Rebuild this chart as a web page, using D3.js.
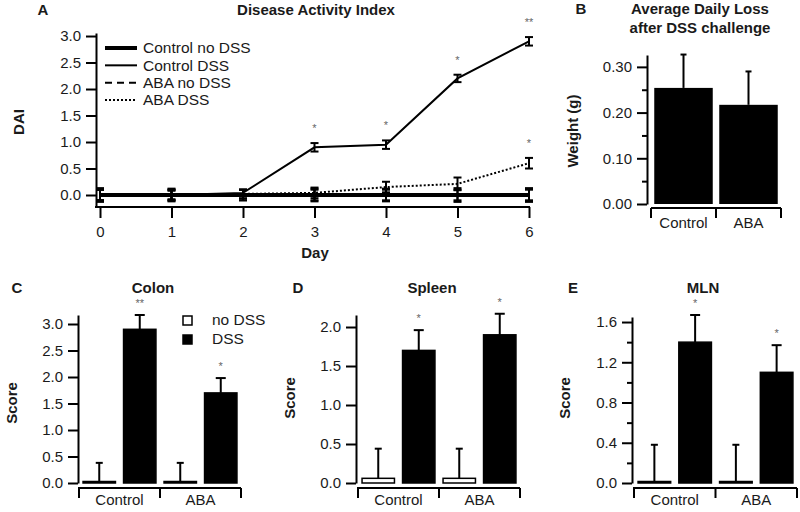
<!DOCTYPE html>
<html><head><meta charset="utf-8">
<script src="https://cdn.jsdelivr.net/npm/d3@7"></script>
<style>
body{margin:0;background:#fff;}
svg{display:block;font-family:"Liberation Sans",Arial,sans-serif;}
</style>
</head><body>
<svg id="chart" width="800" height="512"></svg>
<script>
// ---------- DATA ----------
const days = [0, 1, 2, 3, 4, 5, 6];
const daiTicks = [0, 0.5, 1, 1.5, 2, 2.5, 3];
const seriesNames = ["Control no DSS", "Control DSS", "ABA no DSS", "ABA DSS"];
const ctrlNoDSS = [0, 0, 0, 0, 0, 0, 0];
const ctrlNoDSSErr = [0.13, 0.12, 0.1, 0.12, 0.12, 0.13, 0.13];
const ctrlDSS = [0, 0, 0.04, 0.9, 0.95, 2.2, 2.9];
const ctrlDSSErr = [0.1, 0.1, 0.06, 0.08, 0.08, 0.07, 0.08];
const abaNoDSS = [0, 0, 0, 0, 0, 0, 0];
const abaNoDSSErr = [0.1, 0.1, 0.1, 0.1, 0.1, 0.1, 0.1];
const abaDSS = [0, 0, 0.02, 0.04, 0.15, 0.21, 0.6];
const abaDSSErr = [0.1, 0.08, 0.08, 0.1, 0.1, 0.12, 0.1];
const ctrlDSSStars = ["", "", "", "*", "*", "*", "**"];
const abaDSSStars = ["", "", "", "", "", "", "*"];

const groups = ["Control", "ABA"];
const treatments = ["no DSS", "DSS"];

const weightLoss = [0.254, 0.217];
const weightErr = [0.073, 0.073];
const weightTicks = [0, 0.1, 0.2, 0.3];
const weightMinor = [0.05, 0.15, 0.25];

const colonNo = [0.02, 0.02];
const colonNoErr = [0.36, 0.36];
const colonDSS = [2.9, 1.7];
const colonDSSErr = [0.27, 0.28];
const colonStars = ["**", "*"];
const colonTicks = [0, 0.5, 1, 1.5, 2, 2.5, 3];

const spleenNo = [0.06, 0.06];
const spleenNoErr = [0.38, 0.38];
const spleenDSS = [1.7, 1.9];
const spleenDSSErr = [0.26, 0.27];
const spleenStars = ["*", "*"];
const spleenTicks = [0, 0.5, 1, 1.5, 2];

const mlnNo = [0.01, 0.01];
const mlnNoErr = [0.37, 0.37];
const mlnDSS = [1.4, 1.1];
const mlnDSSErr = [0.27, 0.27];
const mlnStars = ["*", "*"];
const mlnTicks = [0, 0.4, 0.8, 1.2, 1.6];
const mlnMinor = [0.2, 0.6, 1.0, 1.4];

// ---------- HELPERS ----------
const svg = d3.select("#chart");
const TXT = "#1a1a1a";
const FS = 15;

function text(g, x, y, s, o = {}) {
  return g.append("text").attr("x", x).attr("y", y).attr("dy", "0.35em")
    .attr("text-anchor", o.anchor || "middle")
    .attr("font-size", o.size || FS)
    .attr("font-weight", o.bold ? "bold" : "normal")
    .attr("fill", o.fill || TXT)
    .text(s);
}
function vtext(g, x, y, s, size) {
  return g.append("text").attr("transform", `translate(${x},${y}) rotate(-90)`)
    .attr("dy", "0.35em").attr("text-anchor", "middle")
    .attr("font-size", size || FS).attr("font-weight", "bold").attr("fill", TXT).text(s);
}
function leftAxis(g, scale, x, majors, minors, fmt) {
  const ax = g.append("g").attr("transform", `translate(${x},0)`)
    .call(d3.axisLeft(scale).tickValues(majors).tickFormat(fmt).tickSize(10).tickSizeOuter(0).tickPadding(5));
  ax.select(".domain").attr("stroke", "#000").attr("stroke-width", 2);
  ax.selectAll(".tick line").attr("stroke", "#000").attr("stroke-width", 2);
  ax.selectAll(".tick text").attr("font-size", FS).attr("fill", TXT).attr("font-family", "Liberation Sans, Arial, sans-serif");
  if (minors) {
    const mn = g.append("g").attr("transform", `translate(${x},0)`)
      .call(d3.axisLeft(scale).tickValues(minors).tickFormat("").tickSize(5).tickSizeOuter(0));
    mn.select(".domain").remove();
    mn.selectAll(".tick line").attr("stroke", "#000").attr("stroke-width", 2);
  }
  return ax;
}

// ---------- PANEL A ----------
(function () {
  const g = svg.append("g");
  const x = d3.scaleLinear().domain([0, 6]).range([100, 529]);
  const y = d3.scaleLinear().domain([-0.2264, 3.057]).range([207, 33]);

  leftAxis(g, y, 96, daiTicks, null, d3.format(".1f"));
  const xa = g.append("g").attr("transform", "translate(0,207)")
    .call(d3.axisBottom(x).tickValues(days).tickFormat(d3.format("d")).tickSize(11).tickSizeOuter(0).tickPadding(8));
  xa.select(".domain").remove();
  xa.selectAll(".tick line").attr("stroke", "#000").attr("stroke-width", 2);
  xa.selectAll(".tick text").attr("font-size", FS).attr("fill", TXT).attr("font-family", "Liberation Sans, Arial, sans-serif");
  g.append("line").attr("x1", 95).attr("x2", 530).attr("y1", y.range()[0]).attr("y2", y.range()[0])
    .attr("stroke", "#000").attr("stroke-width", 2);

  const series = [
    { v: ctrlNoDSS, e: ctrlNoDSSErr, w: 4, dash: null },
    { v: ctrlDSS, e: ctrlDSSErr, w: 2, dash: null },
    { v: abaNoDSS, e: abaNoDSSErr, w: 2, dash: "7,5" },
    { v: abaDSS, e: abaDSSErr, w: 2, dash: "2,2" }
  ];
  const line = d3.line().x((d, i) => x(days[i])).y(d => y(d));
  series.forEach(s => {
    const eb = g.append("g");
    s.v.forEach((v, i) => {
      const cx = x(days[i]), t = y(v + s.e[i]), b = y(v - s.e[i]);
      eb.append("line").attr("x1", cx).attr("x2", cx).attr("y1", t).attr("y2", b).attr("stroke", "#000").attr("stroke-width", 2);
      [t, b].forEach(yy => eb.append("line").attr("x1", cx - 4).attr("x2", cx + 4).attr("y1", yy).attr("y2", yy).attr("stroke", "#000").attr("stroke-width", 2));
    });
  });
  [3, 2, 1, 0].forEach(k => {
    const s = series[k];
    g.append("path").attr("d", line(s.v)).attr("fill", "none").attr("stroke", "#000")
      .attr("stroke-width", s.w).attr("stroke-dasharray", s.dash);
  });
  ctrlDSSStars.forEach((s, i) => { if (s) text(g, x(days[i]), y(ctrlDSS[i] + ctrlDSSErr[i]) - 15, s, { size: 11, fill: "#666" }); });
  abaDSSStars.forEach((s, i) => { if (s) text(g, x(days[i]), y(abaDSS[i] + abaDSSErr[i]) - 15, s, { size: 11, fill: "#666" }); });

  const ly = d3.scalePoint().domain(seriesNames).range([48, 100]);
  seriesNames.forEach((n, k) => {
    const s = series[k];
    g.append("line").attr("x1", 105).attr("x2", 137).attr("y1", ly(n)).attr("y2", ly(n))
      .attr("stroke", "#000").attr("stroke-width", s.w).attr("stroke-dasharray", s.dash);
    text(g, 143, ly(n), n, { anchor: "start", size: 15.5 });
  });

  text(g, 316, 10, "Disease Activity Index", { bold: true });
  text(g, 43, 10, "A", { bold: true });
  text(g, 315, 253, "Day", { bold: true });
  vtext(g, 19, 122, "DAI");
})();

// ---------- PANEL B ----------
(function () {
  const g = svg.append("g");
  const x = d3.scaleBand().domain(groups).range([651, 781]).paddingInner(0.1).paddingOuter(0.05);
  const y = d3.scaleLinear().domain([0, 0.326]).range([204, 55]);
  leftAxis(g, y, 647, weightTicks, weightMinor, d3.format(".2f"));
  g.append("line").attr("x1", 651).attr("x2", 781).attr("y1", 208).attr("y2", 208).attr("stroke", "#000").attr("stroke-width", 2);
  const bounds = groups.map(d => x(d) - x.step() * x.paddingOuter()).concat([781]);
  bounds.forEach(b => g.append("line").attr("x1", b).attr("x2", b).attr("y1", 208).attr("y2", 218).attr("stroke", "#000").attr("stroke-width", 2));
  groups.forEach((gr, i) => {
    const bx = x(gr), bw = x.bandwidth();
    g.append("line").attr("x1", bx + bw / 2).attr("x2", bx + bw / 2).attr("y1", y(weightLoss[i])).attr("y2", y(weightLoss[i] + weightErr[i])).attr("stroke", "#000").attr("stroke-width", 2);
    g.append("line").attr("x1", bx + bw / 2 - 3).attr("x2", bx + bw / 2 + 3).attr("y1", y(weightLoss[i] + weightErr[i])).attr("y2", y(weightLoss[i] + weightErr[i])).attr("stroke", "#000").attr("stroke-width", 2);
    g.append("rect").attr("x", bx).attr("y", y(weightLoss[i])).attr("width", bw).attr("height", y(0) - y(weightLoss[i])).attr("fill", "#000");
    text(g, bx + bw / 2, 223, gr);
  });
  text(g, 700, 9, "Average Daily Loss", { bold: true });
  text(g, 700, 28, "after DSS challenge", { bold: true });
  text(g, 581, 9, "B", { bold: true });
  vtext(g, 573, 131, "Weight (g)");
})();

// ---------- PANELS C, D, E ----------
function barPanel(o) {
  const g = svg.append("g");
  const x = d3.scaleBand().domain(groups).range(o.band);
  const xi = d3.scaleBand().domain(treatments).range([0, x.bandwidth()]).paddingInner(0.2).paddingOuter(0.1);
  const y = d3.scaleLinear().domain([0, o.top]).range([483, o.topPx]);
  leftAxis(g, y, o.axisX, o.ticks, o.minor, d3.format(".1f"));
  g.append("line").attr("x1", o.band[0] - 1).attr("x2", o.band[1]).attr("y1", 488).attr("y2", 488).attr("stroke", "#000").attr("stroke-width", 2);
  groups.map(d => x(d)).concat([o.band[1]]).forEach(b =>
    g.append("line").attr("x1", b).attr("x2", b).attr("y1", 488).attr("y2", 498).attr("stroke", "#000").attr("stroke-width", 2));
  groups.forEach((gr, i) => {
    const rows = [
      { t: "no DSS", v: o.no[i], e: o.noErr[i], fill: "#fff", cap: 3.5 },
      { t: "DSS", v: o.dss[i], e: o.dssErr[i], fill: "#000", cap: 5 }
    ];
    rows.forEach(r => {
      const bx = x(gr) + xi(r.t), bw = xi.bandwidth(), cx = bx + bw / 2;
      g.append("line").attr("x1", cx).attr("x2", cx).attr("y1", y(r.v)).attr("y2", y(r.v + r.e)).attr("stroke", "#000").attr("stroke-width", 2);
      g.append("line").attr("x1", cx - r.cap).attr("x2", cx + r.cap).attr("y1", y(r.v + r.e)).attr("y2", y(r.v + r.e)).attr("stroke", "#000").attr("stroke-width", 2);
      const h = Math.max(y(0) - y(r.v), 1.5);
      g.append("rect").attr("x", bx).attr("y", y(0) - h).attr("width", bw).attr("height", h)
        .attr("fill", r.fill).attr("stroke", "#000").attr("stroke-width", 1.5);
    });
    const cx = x(gr) + xi("DSS") + xi.bandwidth() / 2;
    text(g, cx, y(o.dss[i] + o.dssErr[i]) - 12, o.stars[i], { size: 11, fill: "#666" });
    text(g, x(gr) + x.bandwidth() / 2, 500, gr);
  });
  text(g, o.titleX, 288, o.title, { bold: true });
  text(g, o.letterX, 288, o.letter, { bold: true });
  vtext(g, o.ylabX, o.ylabY, "Score");
  return g;
}

const gC = barPanel({ band: [79, 241], axisX: 78, top: 3.17, topPx: 315, ticks: colonTicks, minor: null,
  no: colonNo, noErr: colonNoErr, dss: colonDSS, dssErr: colonDSSErr, stars: colonStars,
  title: "Colon", titleX: 153, letter: "C", letterX: 17, ylabX: 12, ylabY: 403 });
const lyC = d3.scalePoint().domain(treatments).range([320, 339]);
treatments.forEach((t, k) => {
  gC.append("rect").attr("x", 183).attr("y", lyC(t) - 4).attr("width", 9).attr("height", 9)
    .attr("fill", k ? "#000" : "#fff").attr("stroke", "#000").attr("stroke-width", 1.5);
  text(gC, 212, lyC(t), t, { anchor: "start", size: 15.5 });
});

barPanel({ band: [358, 520], axisX: 356, top: 2.154, topPx: 315, ticks: spleenTicks, minor: null,
  no: spleenNo, noErr: spleenNoErr, dss: spleenDSS, dssErr: spleenDSSErr, stars: spleenStars,
  title: "Spleen", titleX: 432, letter: "D", letterX: 298, ylabX: 290, ylabY: 398 });

barPanel({ band: [634, 797], axisX: 632, top: 1.65, topPx: 317, ticks: mlnTicks, minor: mlnMinor,
  no: mlnNo, noErr: mlnNoErr, dss: mlnDSS, dssErr: mlnDSSErr, stars: mlnStars,
  title: "MLN", titleX: 703, letter: "E", letterX: 573, ylabX: 565, ylabY: 398 });
</script>
</body></html>
